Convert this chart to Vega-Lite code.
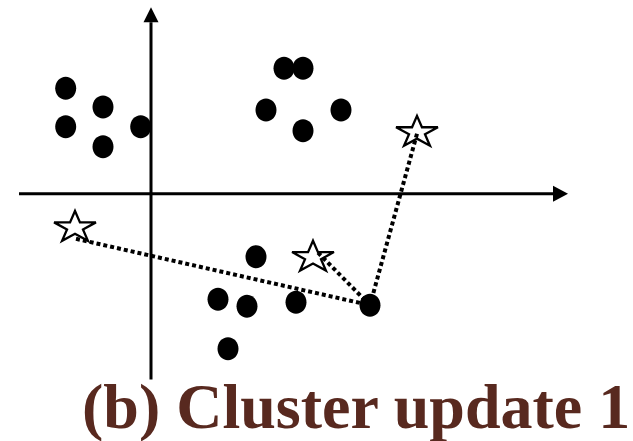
{
  "$schema": "https://vega.github.io/schema/vega-lite/v6.json",
  "width": 633,
  "height": 441,
  "autosize": {"type": "fit", "contains": "padding"},
  "padding": 0,
  "background": "white",
  "config": {"view": {"stroke": null}},
  "data": {
    "values": [
      {"kind": "dot", "x": -8.53, "y": 10.65},
      {"kind": "dot", "x": -4.8, "y": 8.75},
      {"kind": "dot", "x": -8.53, "y": 6.75},
      {"kind": "dot", "x": -1.03, "y": 6.75},
      {"kind": "dot", "x": -4.8, "y": 4.75},
      {"kind": "dot", "x": 13.3, "y": 12.65},
      {"kind": "dot", "x": 15.2, "y": 12.65},
      {"kind": "dot", "x": 11.5, "y": 8.45},
      {"kind": "dot", "x": 19.0, "y": 8.45},
      {"kind": "dot", "x": 15.2, "y": 6.35},
      {"kind": "dot", "x": 10.5, "y": -6.35},
      {"kind": "dot", "x": 6.7, "y": -10.65},
      {"kind": "dot", "x": 9.6, "y": -11.35},
      {"kind": "dot", "x": 14.5, "y": -10.95},
      {"kind": "dot", "x": 21.9, "y": -11.25},
      {"kind": "dot", "x": 7.7, "y": -15.65},
      {"kind": "star", "x": -7.6, "y": -3.25},
      {"kind": "star", "x": 16.2, "y": -6.25},
      {"kind": "star", "x": 26.6, "y": 6.35},
      {"kind": "link", "seg": "a", "ord": 0, "x": -7.5, "y": -4.55},
      {"kind": "link", "seg": "a", "ord": 1, "x": 21.9, "y": -11.25},
      {"kind": "link", "seg": "b", "ord": 0, "x": 16.7, "y": -5.95},
      {"kind": "link", "seg": "b", "ord": 1, "x": 21.9, "y": -11.25},
      {"kind": "link", "seg": "c", "ord": 0, "x": 26.6, "y": 6.05},
      {"kind": "link", "seg": "c", "ord": 1, "x": 21.9, "y": -11.25}
    ]
  },
  "layer": [
    {
      "data": {"values": [{}]},
      "mark": {"type": "rule", "stroke": "black", "strokeWidth": 3},
      "encoding": {
        "x": {"datum": -13.2, "type": "quantitative", "scale": {"domain": [-15.1, 48.2], "nice": false, "zero": false}, "axis": null},
        "x2": {"datum": 40.2},
        "y": {"datum": 0, "type": "quantitative", "scale": {"domain": [-24.55, 19.55], "nice": false, "zero": false}, "axis": null}
      }
    },
    {
      "data": {"values": [{}]},
      "mark": {"type": "rule", "stroke": "black", "strokeWidth": 3},
      "encoding": {
        "x": {"datum": 0, "type": "quantitative", "scale": {"domain": [-15.1, 48.2], "nice": false, "zero": false}, "axis": null},
        "y": {"datum": -18.75, "type": "quantitative", "scale": {"domain": [-24.55, 19.55], "nice": false, "zero": false}, "axis": null},
        "y2": {"datum": 17.3}
      }
    },
    {
      "data": {"values": [{}]},
      "mark": {"type": "point", "shape": "M-1,-1.07L1,0L-1,1.07Z", "filled": true, "color": "black", "size": 225, "opacity": 1},
      "encoding": {
        "x": {"datum": 40.95, "type": "quantitative", "scale": {"domain": [-15.1, 48.2], "nice": false, "zero": false}, "axis": null},
        "y": {"datum": 0, "type": "quantitative", "scale": {"domain": [-24.55, 19.55], "nice": false, "zero": false}, "axis": null}
      }
    },
    {
      "data": {"values": [{}]},
      "mark": {"type": "point", "shape": "M-1,1L0,-1L1,1Z", "filled": true, "color": "black", "size": 225, "opacity": 1},
      "encoding": {
        "x": {"datum": 0, "type": "quantitative", "scale": {"domain": [-15.1, 48.2], "nice": false, "zero": false}, "axis": null},
        "y": {"datum": 18.05, "type": "quantitative", "scale": {"domain": [-24.55, 19.55], "nice": false, "zero": false}, "axis": null}
      }
    },
    {
      "transform": [{"filter": "datum.kind === 'star'"}],
      "mark": {
        "type": "point",
        "shape": "M0,-0.68L0.225,-0.162L0.951,-0.162L0.363,0.159L0.588,0.677L0,0.357L-0.588,0.677L-0.363,0.159L-0.951,-0.162L-0.225,-0.162Z",
        "filled": false,
        "stroke": "black",
        "strokeWidth": 2.3,
        "size": 1936,
        "opacity": 1
      },
      "encoding": {
        "x": {"field": "x", "type": "quantitative", "scale": {"domain": [-15.1, 48.2], "nice": false, "zero": false}, "axis": null},
        "y": {"field": "y", "type": "quantitative", "scale": {"domain": [-24.55, 19.55], "nice": false, "zero": false}, "axis": null}
      }
    },
    {
      "transform": [{"filter": "datum.kind === 'link'"}],
      "mark": {"type": "line", "stroke": "black", "strokeWidth": 4, "strokeDash": [4, 3]},
      "encoding": {
        "x": {"field": "x", "type": "quantitative", "scale": {"domain": [-15.1, 48.2], "nice": false, "zero": false}, "axis": null},
        "y": {"field": "y", "type": "quantitative", "scale": {"domain": [-24.55, 19.55], "nice": false, "zero": false}, "axis": null},
        "detail": {"field": "seg"},
        "order": {"field": "ord"}
      }
    },
    {
      "transform": [{"filter": "datum.kind === 'dot'"}],
      "mark": {
        "type": "point",
        "shape": "M-0.913,0A0.913,1,0,1,1,0.913,0A0.913,1,0,1,1,-0.913,0Z",
        "filled": true,
        "color": "black",
        "size": 529,
        "opacity": 1
      },
      "encoding": {
        "x": {"field": "x", "type": "quantitative", "scale": {"domain": [-15.1, 48.2], "nice": false, "zero": false}, "axis": null},
        "y": {"field": "y", "type": "quantitative", "scale": {"domain": [-24.55, 19.55], "nice": false, "zero": false}, "axis": null}
      }
    },
    {
      "data": {"values": [{}]},
      "mark": {
        "type": "text",
        "text": "(b) Cluster update 1",
        "font": "Liberation Serif",
        "fontWeight": "bold",
        "fontSize": 64,
        "color": "#58291f",
        "align": "left",
        "baseline": "alphabetic"
      },
      "encoding": {
        "x": {"datum": -6.9, "type": "quantitative", "scale": {"domain": [-15.1, 48.2], "nice": false, "zero": false}, "axis": null},
        "y": {"datum": -23.65, "type": "quantitative", "scale": {"domain": [-24.55, 19.55], "nice": false, "zero": false}, "axis": null}
      }
    }
  ]
}
